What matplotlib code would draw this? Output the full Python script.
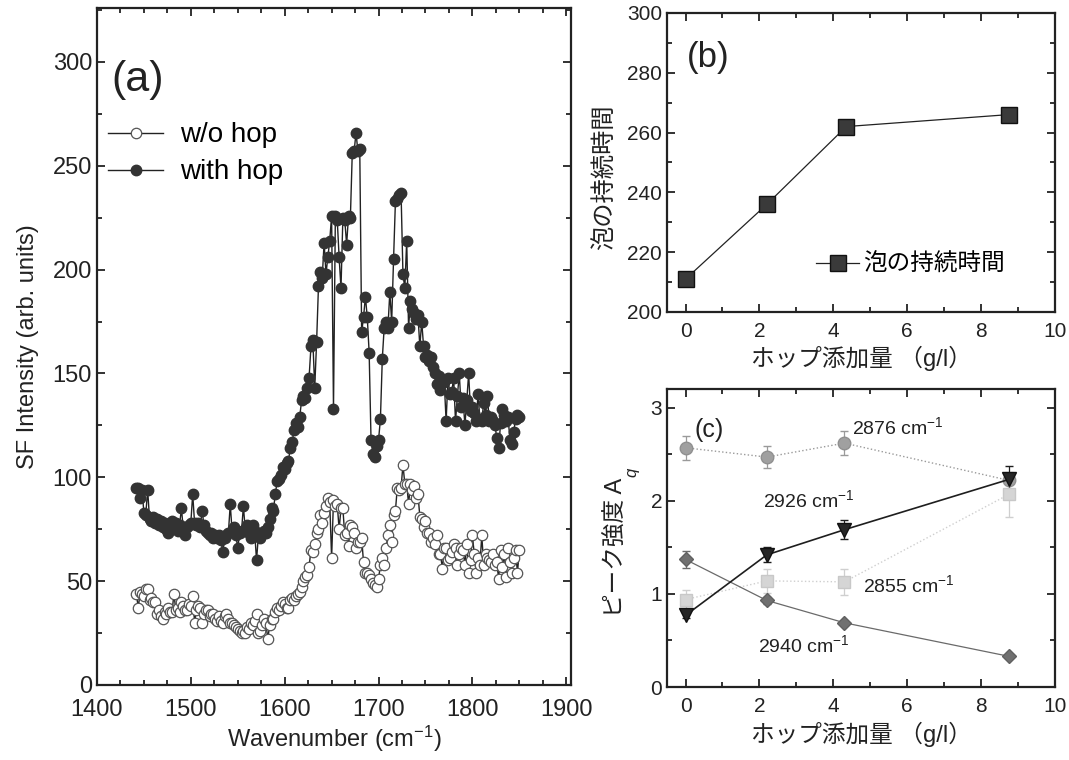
import numpy as np
import matplotlib
matplotlib.use('Agg')
import matplotlib.pyplot as plt
from matplotlib.ticker import MultipleLocator

plt.rcParams['font.family'] = ['Liberation Sans', 'Noto Sans CJK JP']
plt.rcParams['mathtext.fontset'] = 'custom'
plt.rcParams['mathtext.rm'] = 'Liberation Sans'
plt.rcParams['mathtext.it'] = 'Liberation Sans:italic'

# (a) SF spectra, 2 cm-1 grid from 1442 to 1850
wn_start, wn_stop, wn_step = 1442, 1850, 2
with_hop = [
    95, 95, 90, 94, 83, 82, 94, 80, 79, 81,
    78, 80, 77, 79, 76, 78, 75, 73, 77, 79,
    76, 78, 74, 77, 85, 75, 72, 76, 77, 78,
    92, 78, 77, 78, 76, 84, 77, 74, 73, 72,
    73, 71, 72, 71, 72, 70, 64, 71, 72, 73,
    87, 74, 76, 72, 66, 73, 74, 86, 75, 77,
    73, 71, 77, 74, 60, 72, 71, 73, 74, 73,
    76, 80, 85, 84, 92, 98, 99, 101, 105, 104,
    107, 108, 114, 117, 123, 126, 124, 129, 137, 139,
    138, 143, 148, 163, 166, 143, 165, 192, 199, 196,
    213, 198, 206, 214, 226, 133, 226, 224, 206, 191,
    225, 224, 212, 226, 225, 256, 257, 266, 257, 258,
    170, 177, 187, 177, 160, 118, 111, 110, 115, 118,
    128, 157, 172, 175, 172, 189, 175, 205, 233, 234,
    236, 237, 198, 191, 214, 172, 185, 181, 179, 176,
    178, 163, 175, 163, 158, 159, 156, 158, 153, 150,
    145, 149, 142, 147, 146, 127, 148, 140, 141, 148,
    127, 139, 150, 134, 138, 125, 137, 150, 132, 134,
    131, 127, 140, 128, 127, 136, 130, 139, 127, 129,
    127, 125, 119, 114, 126, 133, 130, 127, 129, 118,
    116, 122, 128, 130, 129,
]
without_hop = [
    44, 37, 45, 44, 43, 46, 46, 41, 42, 40,
    40, 34, 36, 33, 32, 35, 34, 37, 35, 35,
    44, 36, 37, 35, 40, 38, 36, 36, 39, 38,
    43, 30, 36, 38, 37, 30, 34, 36, 36, 33,
    34, 34, 32, 31, 33, 31, 30, 33, 34, 32,
    30, 30, 29, 28, 27, 26, 25, 26, 25, 28,
    27, 30, 29, 31, 34, 25, 26, 29, 32, 30,
    22, 29, 32, 32, 35, 37, 36, 38, 40, 39,
    37, 37, 41, 42, 41, 43, 44, 45, 47, 50,
    52, 53, 57, 65, 64, 68, 73, 75, 82, 78,
    83, 86, 90, 88, 61, 89, 86, 87, 75, 85,
    85, 72, 73, 67, 77, 76, 73, 66, 69, 69,
    71, 59, 54, 54, 53, 51, 49, 48, 47, 51,
    58, 61, 58, 66, 72, 77, 69, 82, 84, 95,
    94, 95, 106, 97, 97, 87, 97, 94, 96, 90,
    92, 81, 80, 76, 79, 73, 73, 69, 71, 68,
    72, 63, 63, 56, 66, 66, 60, 61, 64, 68,
    66, 58, 63, 66, 65, 58, 68, 54, 60, 72,
    63, 54, 61, 58, 72, 58, 63, 61, 60, 59,
    63, 58, 59, 51, 65, 57, 63, 52, 66, 59,
    54, 61, 65, 54, 65,
]
wavenumber = np.arange(wn_start, wn_stop + 1, wn_step)

# (b) foam duration vs hop amount
hop_b = [0, 2.2, 4.35, 8.75]
foam_time = [211, 236, 262, 266]

# (c) peak intensities
hop_c = [0, 2.2, 4.3, 8.75]
a2876 = [2.57, 2.47, 2.62, 2.22]
e2876 = [0.13, 0.12, 0.13, 0.02]
a2926 = [0.77, 1.42, 1.69, 2.23]
e2926 = [0.03, 0.08, 0.10, 0.14]
a2855 = [0.94, 1.14, 1.13, 2.07]
e2855 = [0.10, 0.13, 0.14, 0.24]
a2940 = [1.37, 0.93, 0.69, 0.33]
e2940 = [0.09, 0.04, 0.02, 0.01]

fig = plt.figure(figsize=(10.69, 7.6), dpi=100)
ink = '#222222'

def style_axes(ax, size=15, xpad=7):
    for s in ax.spines.values():
        s.set_linewidth(1.6)
        s.set_color(ink)
    ax.tick_params(which='both', direction='in', top=True, right=True,
                   labelsize=size, colors=ink, width=1.3)
    ax.tick_params(which='major', length=6)
    ax.tick_params(which='minor', length=3.5)
    ax.tick_params(axis='x', pad=xpad)

# panel (a)
ax = fig.add_axes([0.0907, 0.0987, 0.4434, 0.8908])
ax.plot(wavenumber, without_hop, '-o', color=ink, lw=1.0, ms=7.5,
        mfc='white', mec='#555555', mew=0.9, label='w/o hop')
ax.plot(wavenumber, with_hop, '-o', color=ink, lw=1.0, ms=7.5,
        mfc='#333333', mec='#333333', label='with hop')
ax.set_xlim(1400, 1905)
ax.set_ylim(0, 326)
ax.xaxis.set_major_locator(MultipleLocator(100))
ax.xaxis.set_minor_locator(MultipleLocator(25))
ax.yaxis.set_major_locator(MultipleLocator(50))
ax.yaxis.set_minor_locator(MultipleLocator(25))
style_axes(ax, 17, xpad=10)
ax.set_xlabel('Wavenumber (cm$^{-1}$)', fontsize=17, color=ink, labelpad=2)
ax.set_ylabel('SF Intensity (arb. units)', fontsize=17, color=ink, labelpad=10)
ax.text(0.03, 0.877, '(a)', transform=ax.transAxes, fontsize=31, color=ink)
ax.legend(loc='upper left', bbox_to_anchor=(-0.03, 0.868), frameon=False,
          fontsize=20, handlelength=2.0, handletextpad=0.6, labelspacing=0.4)

# panel (b)
axb = fig.add_axes([0.624, 0.5895, 0.363, 0.3935])
axb.plot(hop_b, foam_time, '-s', color=ink, lw=0.9, ms=11,
         mfc='#3a3a3a', mec='#111111', label='泡の持続時間')
axb.set_xlim(-0.5, 10)
axb.set_ylim(200, 300)
axb.xaxis.set_major_locator(MultipleLocator(2))
axb.xaxis.set_minor_locator(MultipleLocator(1))
axb.yaxis.set_major_locator(MultipleLocator(20))
axb.yaxis.set_minor_locator(MultipleLocator(10))
style_axes(axb)
axb.set_xlabel('ホップ添加量 （g/l）', fontsize=17, color=ink)
axb.set_ylabel('泡の持続時間', fontsize=17.5, color=ink)
axb.yaxis.set_label_coords(-0.13, 0.45)
axb.text(0.05, 0.82, '(b)', transform=axb.transAxes, fontsize=25, color=ink)
axb.legend(loc='lower left', bbox_to_anchor=(0.33, 0.05), frameon=False,
           fontsize=17, handlelength=1.8, handletextpad=0.2)

# panel (c)
axc = fig.add_axes([0.624, 0.096, 0.363, 0.392])
axc.errorbar(hop_c, a2876, yerr=e2876, fmt='o', ls=':', color='#9a9a9a',
             ms=9, mfc='#a0a0a0', mec='#909090', lw=1.0, capsize=3, elinewidth=0.9)
axc.errorbar(hop_c, a2855, yerr=e2855, fmt='s', ls=':', color='#cfcfcf',
             ms=8, mfc='#d5d5d5', mec='#c8c8c8', lw=1.0, capsize=3, elinewidth=0.9)
axc.errorbar(hop_c, a2940, yerr=e2940, fmt='D', ls='-', color='#6a6a6a',
             ms=7.5, mfc='#707070', mec='#606060', lw=0.9, capsize=3, elinewidth=0.9)
axc.errorbar(hop_c, a2926, yerr=e2926, fmt='v', ls='-', color='#1e1e1e',
             ms=10, mfc='#262626', mec='#111111', lw=1.2, capsize=3, elinewidth=0.9)
axc.set_xlim(-0.5, 10)
axc.set_ylim(0, 3.2)
axc.xaxis.set_major_locator(MultipleLocator(2))
axc.xaxis.set_minor_locator(MultipleLocator(1))
axc.yaxis.set_major_locator(MultipleLocator(1))
axc.yaxis.set_minor_locator(MultipleLocator(0.5))
style_axes(axc)
axc.set_xlabel('ホップ添加量 （g/l）', fontsize=17, color=ink)
axc.set_ylabel('ピーク強度 A', fontsize=17, color=ink)
axc.yaxis.set_label_coords(-0.1, 0.47)
axc.text(0.07, 0.84, '(c)', transform=axc.transAxes, fontsize=18, color=ink)
axc.text(4.5, 2.72, '2876 cm$^{-1}$', fontsize=14, color=ink)
axc.text(2.1, 1.93, '2926 cm$^{-1}$', fontsize=14, color=ink)
axc.text(4.8, 1.02, '2855 cm$^{-1}$', fontsize=14, color=ink)
axc.text(1.95, 0.37, '2940 cm$^{-1}$', fontsize=14, color=ink)

# subscript q after the rotated "A" of the (c) y label
fig.canvas.draw()
bb = axc.yaxis.label.get_window_extent().transformed(fig.transFigure.inverted())
fig.text(bb.x1 - 0.004, bb.y1 + 0.001, 'q', rotation=90, fontsize=12,
         style='italic', color=ink, ha='left', va='bottom')

fig.savefig('out.png', dpi=100)
